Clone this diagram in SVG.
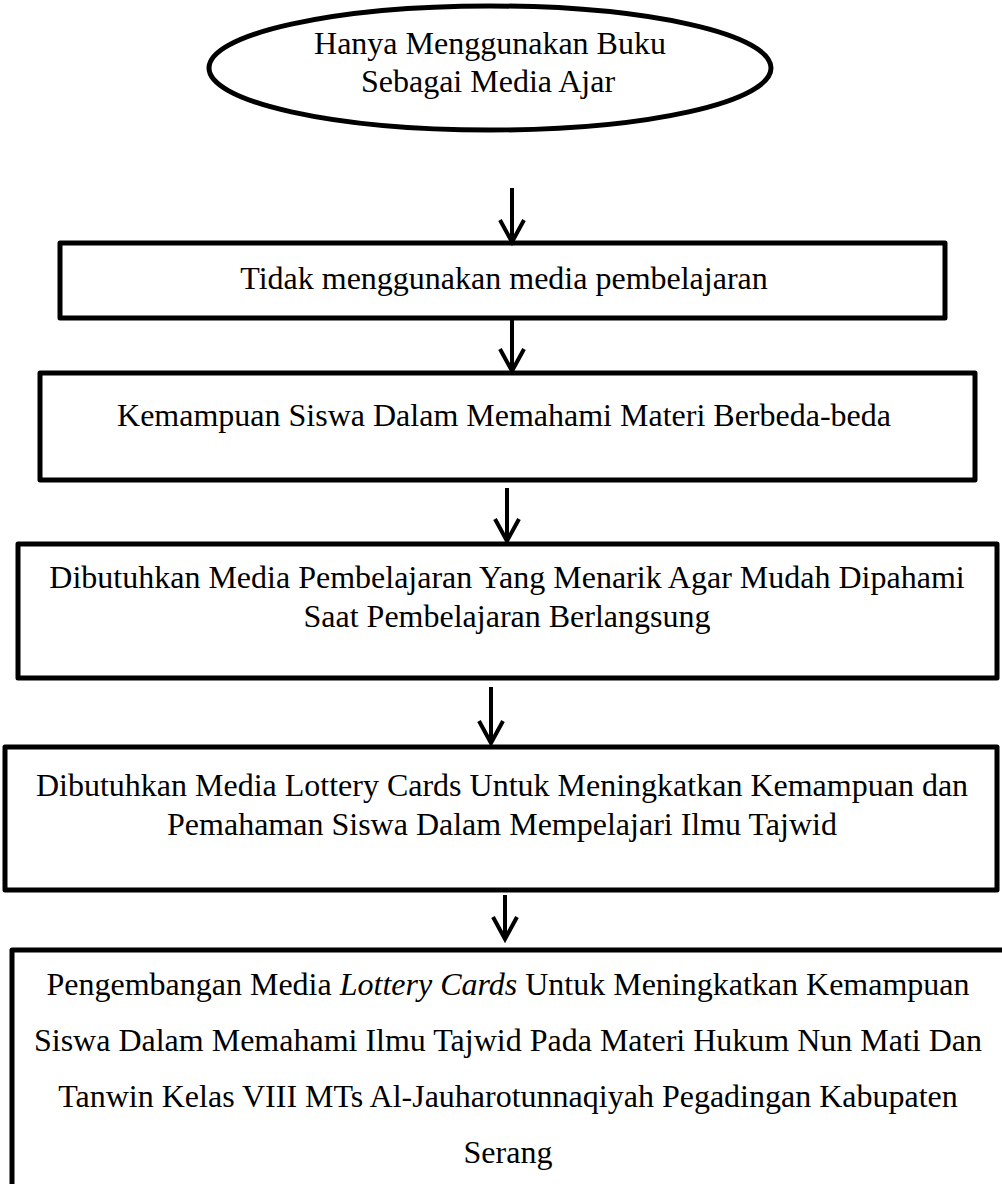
<svg xmlns="http://www.w3.org/2000/svg" width="1002" height="1184" viewBox="0 0 1002 1184">
<style>
.shape{fill:#fff;stroke:#000;stroke-width:5;stroke-linejoin:round}
.t{font-family:"Liberation Serif","Times New Roman",serif;font-size:32px;fill:#000;text-anchor:middle}
.conn{stroke:#000;stroke-width:4;fill:none}
</style>
<defs>
<marker id="arr" viewBox="-26 -15 30 30" refX="0" refY="0" markerWidth="30" markerHeight="30" markerUnits="userSpaceOnUse" orient="auto" overflow="visible">
<path d="M-22,-12 L0,0 L-22,12" fill="none" stroke="#000" stroke-width="4" stroke-linejoin="miter"/>
</marker>
</defs>
<rect width="1002" height="1184" fill="#fff"/>
<g id="n1">
<ellipse class="shape" cx="490" cy="68" rx="281" ry="62"/>
<text class="t" x="490" y="54">Hanya Menggunakan Buku</text>
<text class="t" x="488" y="92">Sebagai Media Ajar</text>
</g>
<g id="n2">
<rect class="shape" x="60" y="243" width="885" height="75"/>
<text class="t" x="504" y="289">Tidak menggunakan media pembelajaran</text>
</g>
<g id="n3">
<rect class="shape" x="40" y="373" width="935" height="107"/>
<text class="t" x="504" y="426">Kemampuan Siswa Dalam Memahami Materi Berbeda-beda</text>
</g>
<g id="n4">
<rect class="shape" x="18" y="544" width="979" height="134"/>
<text class="t" x="507" y="588">Dibutuhkan Media Pembelajaran Yang Menarik Agar Mudah Dipahami</text>
<text class="t" x="507" y="627">Saat Pembelajaran Berlangsung</text>
</g>
<g id="n5">
<rect class="shape" x="5" y="747" width="992" height="143"/>
<text class="t" x="502" y="796">Dibutuhkan Media Lottery Cards Untuk Meningkatkan Kemampuan dan</text>
<text class="t" x="502" y="835">Pemahaman Siswa Dalam Mempelajari Ilmu Tajwid</text>
</g>
<g id="n6">
<rect class="shape" x="12" y="950" width="1000" height="250"/>
<text class="t" x="508" y="995">Pengembangan Media <tspan font-style="italic">Lottery Cards</tspan> Untuk Meningkatkan Kemampuan</text>
<text class="t" x="508" y="1051">Siswa Dalam Memahami Ilmu Tajwid Pada Materi Hukum Nun Mati Dan</text>
<text class="t" x="508" y="1107">Tanwin Kelas VIII MTs Al-Jauharotunnaqiyah Pegadingan Kabupaten</text>
<text class="t" x="508" y="1163">Serang</text>
</g>
<g id="connectors">
<line class="conn" x1="512" y1="188" x2="512" y2="242" marker-end="url(#arr)"/>
<line class="conn" x1="512" y1="320" x2="512" y2="371" marker-end="url(#arr)"/>
<line class="conn" x1="507" y1="488" x2="507" y2="541" marker-end="url(#arr)"/>
<line class="conn" x1="491" y1="687" x2="491" y2="743" marker-end="url(#arr)"/>
<line class="conn" x1="505" y1="895" x2="505" y2="939" marker-end="url(#arr)"/>
</g>
</svg>
